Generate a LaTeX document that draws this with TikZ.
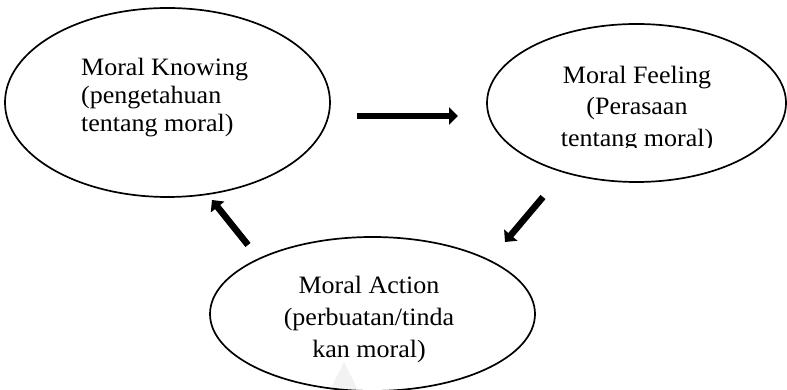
\documentclass[tikz,border=0pt]{standalone}
\usepackage{fontspec}
\setmainfont{Liberation Serif}
\newfontfamily\lblfont{Liberation Serif}[FakeStretch=1.04]
\usetikzlibrary{shapes.geometric,arrows.meta}
\tikzset{
  bubble/.style={ellipse, draw=black, line width=1.7pt, inner sep=0pt},
  lbl/.style={inner sep=0pt, text=black},
  bigarrow/.style={line width=6.5pt, -{Triangle[width=17pt,length=9pt]}},
}
\begin{document}
\begin{tikzpicture}[x=1pt,y=1pt]
\useasboundingbox (0,0) rectangle (787,390);
% faint watermark
\fill[gray!10] (330,0) -- (344,28) -- (358,0) -- cycle;
% ellipses
\node[bubble, minimum width=325pt, minimum height=189pt] (know) at (167.5,287.5) {};
\node[bubble, minimum width=299pt, minimum height=158pt] (feel) at (636.5,287) {};
\node[bubble, minimum width=325pt, minimum height=154pt] (act) at (372.5,76) {};
% texts
\node[lbl, align=left, anchor=west, font=\lblfont\fontsize{25}{28}\selectfont] (knowtxt) at (81,292)
  {Moral Knowing\\(pengetahuan\\tentang moral)};
\begin{scope}
  \clip (400,242) rectangle (787,390);
  \node[lbl, align=center, font=\lblfont\fontsize{25}{31.5}\selectfont] (feeltxt) at (637,281)
    {Moral Feeling\\(Perasaan\\tentang moral)};
\end{scope}
\node[lbl, align=center, font=\lblfont\fontsize{25}{32}\selectfont] (acttxt) at (369,71)
  {Moral Action\\(perbuatan/tinda\\kan moral)};
% arrows
\coordinate (a1s) at (357,274);
\coordinate (a1e) at (458,274);
\coordinate (a2s) at (543,193);
\coordinate (a2e) at (505,148);
\coordinate (a3s) at (248,145);
\coordinate (a3e) at (212,190);
\draw[bigarrow] (a1s) -- (a1e);
\draw[bigarrow] (a2s) -- (a2e);
\draw[bigarrow] (a3s) -- (a3e);
\end{tikzpicture}
\end{document}
